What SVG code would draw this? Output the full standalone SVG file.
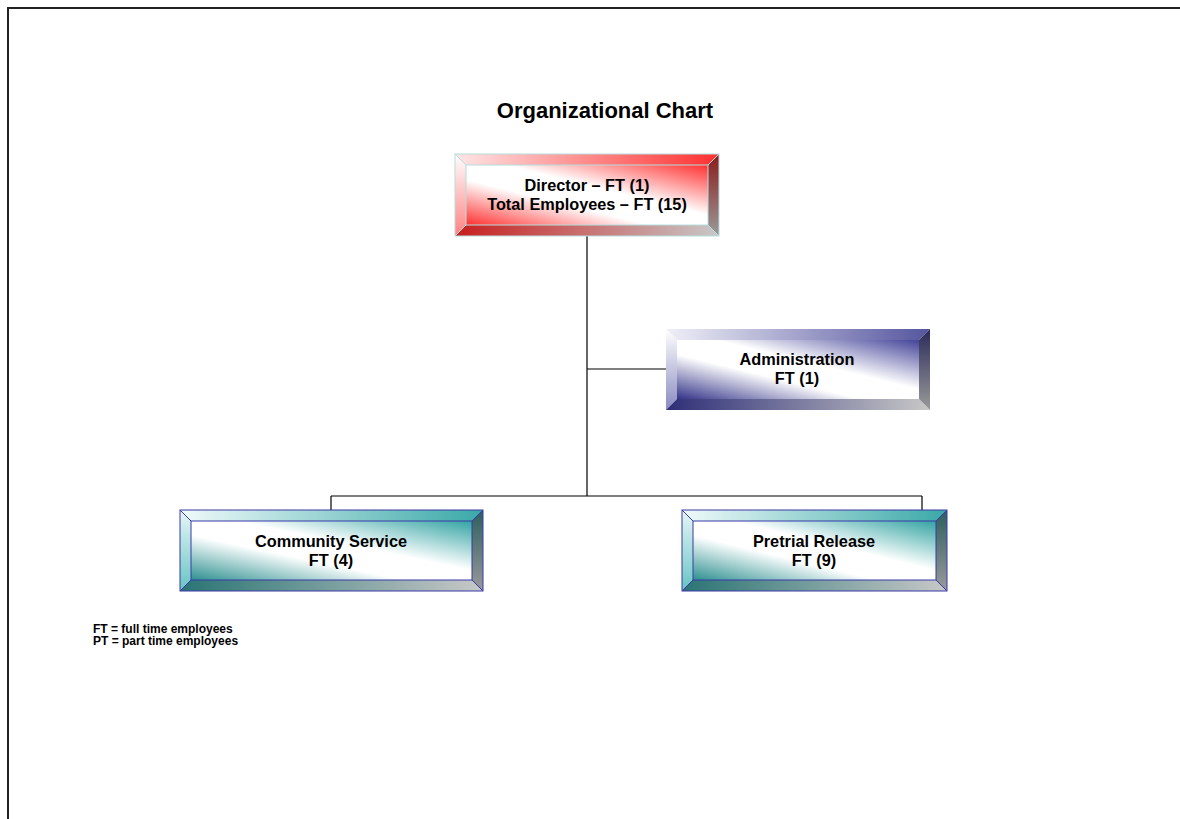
<svg xmlns="http://www.w3.org/2000/svg" width="1180" height="819" viewBox="0 0 1180 819">
<defs>
<style>
text{font-family:"Liberation Sans",Arial,sans-serif;font-weight:bold;fill:#000;text-anchor:middle}
.lbl{font-size:16.3px}
.conn{stroke:#000;stroke-width:1.2;fill:none}
.leg{font-size:12px;text-anchor:start}
</style>
<linearGradient id="faceR" x1="1" y1="0" x2="0" y2="1"><stop offset="0" stop-color="#ff3030"/><stop offset="0.42" stop-color="#ffffff"/><stop offset="0.62" stop-color="#ffffff"/><stop offset="1" stop-color="#ff3030"/></linearGradient>
<linearGradient id="topR" x1="0" y1="0" x2="1" y2="0"><stop offset="0" stop-color="#ffe6e6"/><stop offset="1" stop-color="#ff3030"/></linearGradient>
<linearGradient id="leftR" x1="0" y1="0" x2="0" y2="1"><stop offset="0" stop-color="#ffffff"/><stop offset="1" stop-color="#ff8080"/></linearGradient>
<linearGradient id="botR" x1="0" y1="0" x2="1" y2="0"><stop offset="0" stop-color="#c81e1e"/><stop offset="1" stop-color="#c8c8c8"/></linearGradient>
<linearGradient id="rightR" x1="0" y1="0" x2="0" y2="1"><stop offset="0" stop-color="#8c1a1a"/><stop offset="1" stop-color="#9a9a9a"/></linearGradient>

<linearGradient id="faceB" x1="1" y1="0" x2="0" y2="1"><stop offset="0" stop-color="#44449a"/><stop offset="0.42" stop-color="#ffffff"/><stop offset="0.62" stop-color="#ffffff"/><stop offset="1" stop-color="#333388"/></linearGradient>
<linearGradient id="topB" x1="0" y1="0" x2="1" y2="0"><stop offset="0" stop-color="#f0f0f8"/><stop offset="1" stop-color="#55559f"/></linearGradient>
<linearGradient id="leftB" x1="0" y1="0" x2="0" y2="1"><stop offset="0" stop-color="#ffffff"/><stop offset="1" stop-color="#8a8ac0"/></linearGradient>
<linearGradient id="botB" x1="0" y1="0" x2="1" y2="0"><stop offset="0" stop-color="#2e2e78"/><stop offset="1" stop-color="#c8c8c8"/></linearGradient>
<linearGradient id="rightB" x1="0" y1="0" x2="0" y2="1"><stop offset="0" stop-color="#2a2a5a"/><stop offset="1" stop-color="#9a9a9a"/></linearGradient>

<linearGradient id="faceT" x1="1" y1="0" x2="0" y2="1"><stop offset="0" stop-color="#33a3a3"/><stop offset="0.42" stop-color="#ffffff"/><stop offset="0.62" stop-color="#ffffff"/><stop offset="1" stop-color="#2e9090"/></linearGradient>
<linearGradient id="topT" x1="0" y1="0" x2="1" y2="0"><stop offset="0" stop-color="#f0fafa"/><stop offset="1" stop-color="#3aa8a8"/></linearGradient>
<linearGradient id="leftT" x1="0" y1="0" x2="0" y2="1"><stop offset="0" stop-color="#e8f6f6"/><stop offset="1" stop-color="#66c4c4"/></linearGradient>
<linearGradient id="botT" x1="0" y1="0" x2="1" y2="0"><stop offset="0" stop-color="#2a7474"/><stop offset="1" stop-color="#c8c8c8"/></linearGradient>
<linearGradient id="rightT" x1="0" y1="0" x2="0" y2="1"><stop offset="0" stop-color="#2c5e5e"/><stop offset="1" stop-color="#9a9a9a"/></linearGradient>
</defs>

<rect x="0" y="0" width="1180" height="819" fill="#ffffff"/>
<path d="M8 819 V8 H1180" fill="none" stroke="#222" stroke-width="2"/>

<text x="605" y="118" style="font-size:22px">Organizational Chart</text>

<g id="connectors">
<path class="conn" d="M587 236 V496"/>
<path class="conn" d="M587 369 H666"/>
<path class="conn" d="M331 496 H922"/>
<path class="conn" d="M331 496 V510"/>
<path class="conn" d="M922 496 V510"/>
</g>

<g id="director">
<rect x="466" y="165" width="242" height="60" fill="url(#faceR)"/>
<polygon points="455,154 719,154 708,165 466,165" fill="url(#topR)"/>
<polygon points="455,154 466,165 466,225 455,236" fill="url(#leftR)"/>
<polygon points="455,236 466,225 708,225 719,236" fill="url(#botR)"/>
<polygon points="719,154 719,236 708,225 708,165" fill="url(#rightR)"/>
<g fill="none" stroke="#b6dede" stroke-width="1">
<rect x="455" y="154" width="264" height="82"/>
<rect x="466" y="165" width="242" height="60"/>
<path d="M455 154 L466 165 M719 154 L708 165 M455 236 L466 225 M719 236 L708 225"/>
</g>
<text class="lbl" x="587" y="191">Director – FT (1)</text>
<text class="lbl" x="587" y="210">Total Employees – FT (15)</text>
</g>

<g id="administration">
<rect x="677" y="340" width="242" height="59" fill="url(#faceB)"/>
<polygon points="666,329 930,329 919,340 677,340" fill="url(#topB)"/>
<polygon points="666,329 677,340 677,399 666,410" fill="url(#leftB)"/>
<polygon points="666,410 677,399 919,399 930,410" fill="url(#botB)"/>
<polygon points="930,329 930,410 919,399 919,340" fill="url(#rightB)"/>
<text class="lbl" x="797" y="365">Administration</text>
<text class="lbl" x="797" y="384">FT (1)</text>
</g>

<g id="community-service">
<rect x="191" y="521" width="281" height="59" fill="url(#faceT)"/>
<polygon points="180,510 483,510 472,521 191,521" fill="url(#topT)"/>
<polygon points="180,510 191,521 191,580 180,591" fill="url(#leftT)"/>
<polygon points="180,591 191,580 472,580 483,591" fill="url(#botT)"/>
<polygon points="483,510 483,591 472,580 472,521" fill="url(#rightT)"/>
<g fill="none" stroke="#3a3aa8" stroke-width="1">
<rect x="180" y="510" width="303" height="81"/>
<rect x="191" y="521" width="281" height="59"/>
<path d="M180 510 L191 521 M483 510 L472 521 M180 591 L191 580 M483 591 L472 580"/>
</g>
<text class="lbl" x="331" y="547">Community Service</text>
<text class="lbl" x="331" y="566">FT (4)</text>
</g>

<g id="pretrial-release">
<rect x="693" y="521" width="243" height="59" fill="url(#faceT)"/>
<polygon points="682,510 947,510 936,521 693,521" fill="url(#topT)"/>
<polygon points="682,510 693,521 693,580 682,591" fill="url(#leftT)"/>
<polygon points="682,591 693,580 936,580 947,591" fill="url(#botT)"/>
<polygon points="947,510 947,591 936,580 936,521" fill="url(#rightT)"/>
<g fill="none" stroke="#3a3aa8" stroke-width="1">
<rect x="682" y="510" width="265" height="81"/>
<rect x="693" y="521" width="243" height="59"/>
<path d="M682 510 L693 521 M947 510 L936 521 M682 591 L693 580 M947 591 L936 580"/>
</g>
<text class="lbl" x="814" y="547">Pretrial Release</text>
<text class="lbl" x="814" y="566">FT (9)</text>
</g>

<g id="legend">
<text class="leg" x="93" y="633">FT = full time employees</text>
<text class="leg" x="93" y="645">PT = part time employees</text>
</g>
</svg>
